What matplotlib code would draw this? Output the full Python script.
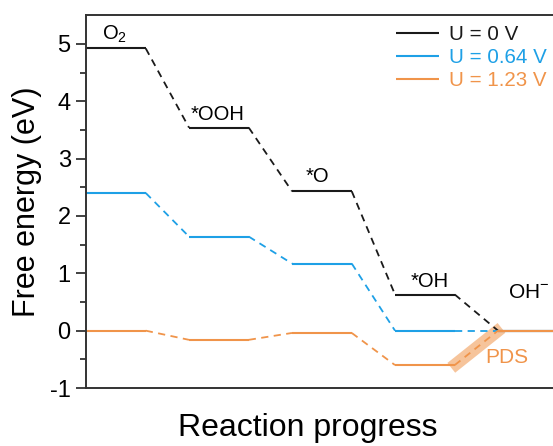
import matplotlib.pyplot as plt

plt.rcParams['font.family'] = ['Liberation Sans', 'DejaVu Sans']
plt.rcParams['axes.unicode_minus'] = False
plt.rcParams['mathtext.fontset'] = 'custom'
plt.rcParams['mathtext.rm'] = 'Liberation Sans'

# Free energy levels (eV) for each intermediate
steps = ['O$_2$', '*OOH', '*O', '*OH', 'OH$^{-}$']
g_0v = [4.92, 3.54, 2.43, 0.63, 0.0]
g_064v = [2.40, 1.64, 1.17, 0.00, 0.0]
g_123v = [0.0, -0.16, -0.04, -0.60, 0.0]

series = [
    ('U = 0 V', g_0v, '#1a1a1a'),
    ('U = 0.64 V', g_064v, '#1ea0e6'),
    ('U = 1.23 V', g_123v, '#f0944a'),
]

width = 0.58   # plateau width
last_end = 4.55

fig = plt.figure(figsize=(5.53, 4.46), dpi=100)
ax = fig.add_axes([0.1555, 0.130, 0.8475, 0.836])

handles = []
for label, g, color in series:
    for i, val in enumerate(g):
        x0 = i
        x1 = last_end if i == len(g) - 1 else i + width
        ln, = ax.plot([x0, x1], [val, val], color=color, lw=1.5,
                      solid_capstyle='butt')
        if i < len(g) - 1:
            ax.plot([i + width, i + 1], [val, g[i + 1]], color=color,
                    lw=1.3, ls=(0, (4, 3)))
    handles.append((ln, label, color))

# highlight the potential-determining step
x_a, x_b = 3 + width, 4
y_a, y_b = g_123v[3], g_123v[4]
ext = 0.08
dx, dy = x_b - x_a, y_b - y_a
ax.plot([x_a - ext * dx, x_b + ext * dx], [y_a - ext * dy, y_b + ext * dy],
        color='#f0944a', lw=9, alpha=0.55, solid_capstyle='butt', zorder=1)
ax.text(4.09, -0.47, 'PDS', color='#f0944a', fontsize=15, ha='center',
        va='center')

# intermediate labels
ax.text(0.28, 5.16, steps[0], fontsize=14.5, ha='center', va='center')
ax.text(1.28, 3.76, steps[1], fontsize=14.5, ha='center', va='center')
ax.text(2.25, 2.68, steps[2], fontsize=14.5, ha='center', va='center')
ax.text(3.34, 0.85, steps[3], fontsize=14.5, ha='center', va='center')
ax.text(4.30, 0.66, steps[4], fontsize=15, ha='center', va='center')

leg = ax.legend([h[0] for h in handles], [h[1] for h in handles],
                loc='upper right', frameon=False, fontsize=14.8,
                handlelength=2.1, handletextpad=0.45, labelspacing=0.2,
                borderaxespad=0.0, bbox_to_anchor=(1.0, 0.995))
for txt, h in zip(leg.get_texts(), handles):
    txt.set_color(h[2])

ax.set_xlim(0, last_end)
ax.set_ylim(-1, 5.5)
ax.set_yticks([-1, 0, 1, 2, 3, 4, 5])
ax.set_yticks([-0.5, 0.5, 1.5, 2.5, 3.5, 4.5], minor=True)
ax.set_xticks([])
ax.tick_params(axis='y', which='major', direction='out', length=7, width=1.3,
               labelsize=17, color='#333333', pad=4)
ax.tick_params(axis='y', which='minor', direction='out', length=4,
               width=1.3, color='#333333')
for side in ['left', 'bottom', 'top', 'right']:
    ax.spines[side].set_linewidth(1.4)
    ax.spines[side].set_color('#333333')

ax.set_ylabel('Free energy (eV)', fontsize=22, labelpad=6)
ax.set_xlabel('Reaction progress', fontsize=23)
ax.xaxis.set_label_coords(0.473, -0.068)

fig.savefig('out.png', dpi=100)
